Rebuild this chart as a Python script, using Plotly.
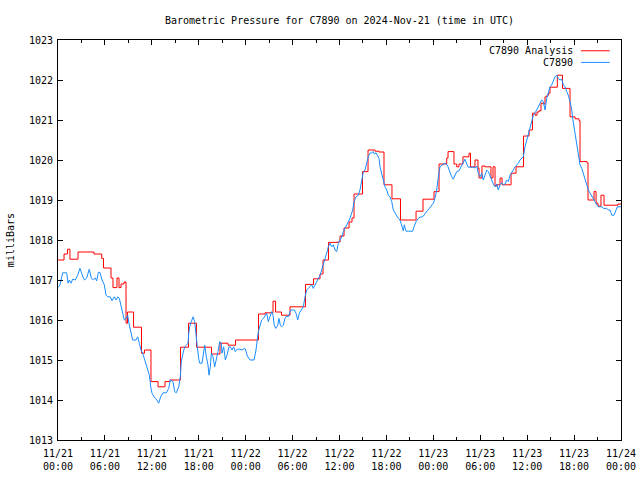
import plotly.graph_objects as go

# ---- data (hours since 2024-11-21 00:00 UTC, pressure in mb) ----
analysis_hours = [0.0, 0.77, 1.21, 1.53, 2.56, 4.60, 5.59, 5.82, 6.78, 7.03, 7.54, 7.80, 8.06, 8.44,
                  8.70, 8.89, 9.66, 10.68, 11.06, 11.89, 12.79, 13.68, 14.32, 15.67, 16.69, 17.71,
                  19.63, 20.72, 21.74, 22.70, 25.64, 26.47, 27.50, 27.82, 28.58, 29.67, 31.65, 32.68,
                  33.51, 33.89, 34.59, 35.68, 36.07, 36.58, 37.22, 37.60, 37.86, 38.94, 39.65, 40.54,
                  41.05, 41.69, 42.71, 43.80, 45.79, 46.68, 48.09, 48.73, 49.71, 49.88, 50.64, 50.99,
                  51.28, 51.79, 52.56, 52.75, 53.33, 53.71, 53.84, 54.22, 54.61, 55.37, 55.63, 55.89,
                  56.14, 56.53, 56.79, 57.94, 58.58, 59.53, 60.24, 60.68, 61.00, 61.26, 61.51, 61.77,
                  62.03, 62.28, 62.54, 62.73, 62.92, 63.86, 64.52, 65.48, 66.12, 66.63, 66.76, 67.65,
                  67.78, 68.55, 68.81, 69.06, 69.44, 69.83, 71.62, 72.0]
analysis_mb = [1017.50, 1017.65, 1017.77, 1017.52, 1017.70, 1017.65, 1017.54, 1017.30, 1017.05, 1016.81,
               1017.05, 1016.81, 1016.90, 1016.95, 1015.92, 1016.20, 1015.82, 1015.17, 1015.25, 1014.46,
               1014.33, 1014.46, 1014.50, 1015.32, 1015.92, 1015.32, 1015.15, 1015.42, 1015.37, 1015.50,
               1016.15, 1016.18, 1016.47, 1016.20, 1016.12, 1016.33, 1016.89, 1017.03, 1017.15, 1017.50,
               1017.94, 1017.95, 1018.10, 1018.30, 1018.45, 1018.55, 1019.15, 1019.71, 1020.25, 1020.22,
               1020.20, 1019.38, 1019.03, 1018.50, 1018.72, 1019.02, 1019.21, 1019.90, 1020.05, 1020.21,
               1019.90, 1019.83, 1019.90, 1020.08, 1020.17, 1019.83, 1020.00, 1019.80, 1019.55, 1019.85,
               1019.83, 1019.55, 1019.83, 1019.35, 1019.38, 1019.55, 1019.38, 1019.67, 1019.83, 1020.60,
               1020.75, 1021.17, 1021.12, 1021.20, 1021.23, 1021.42, 1021.40, 1021.58, 1021.62, 1021.67,
               1021.82, 1022.12, 1021.79, 1021.08, 1021.03, 1020.98, 1019.96, 1019.93, 1019.00, 1019.21,
               1018.92, 1018.85, 1019.12, 1018.87, 1018.90, 1018.90]

obs_hours = [0.0, 0.26, 0.60, 1.11, 1.28, 1.45, 1.66, 1.88, 2.21, 2.52, 2.81, 3.03, 3.24, 3.41, 3.67,
             4.00, 4.26, 4.51, 4.77, 4.95, 5.15, 5.37, 5.63, 5.92, 6.14, 6.36, 6.69, 6.91, 7.20, 7.42,
             7.67, 7.84, 8.06, 8.27, 8.48, 8.70, 8.91, 9.12, 9.34, 9.55, 9.98, 10.19, 10.40, 10.61,
             10.83, 11.04, 11.25, 11.47, 11.68, 11.89, 12.02, 12.28, 12.57, 12.88, 13.13, 13.43,
             13.85, 14.16, 14.36, 14.71, 14.92, 15.13, 15.44, 15.64, 15.77, 15.99, 16.20, 16.41,
             16.63, 16.72, 16.84, 17.05, 17.27, 17.48, 17.61, 17.82, 17.99, 18.12, 18.42, 18.54,
             18.76, 18.97, 19.18, 19.31, 19.48, 19.61, 19.82, 20.04, 20.25, 20.46, 20.68, 20.88,
             20.97, 21.19, 21.40, 21.61, 21.87, 22.04, 22.25, 22.47, 22.67, 22.93, 23.24, 23.53,
             23.88, 24.00, 24.21, 24.55, 25.07, 25.32, 25.62, 25.83, 26.05, 26.26, 26.47, 26.69,
             26.89, 27.11, 27.33, 27.50, 27.66, 27.84, 28.10, 28.26, 28.43, 28.61, 28.81, 29.03,
             29.25, 29.45, 29.76, 30.02, 30.22, 30.44, 30.66, 30.86, 31.08, 31.37, 31.59, 31.81,
             32.01, 32.23, 32.45, 32.65, 32.87, 33.09, 33.29, 33.51, 33.72, 33.93, 34.15, 34.36,
             34.57, 34.79, 35.00, 35.21, 35.43, 35.64, 35.85, 36.07, 36.28, 36.49, 36.83, 37.13,
             37.34, 37.69, 37.86, 38.11, 38.41, 38.62, 38.84, 39.05, 39.26, 39.48, 39.68, 39.90,
             40.12, 40.32, 40.45, 40.67, 40.84, 41.05, 41.18, 41.40, 41.60, 41.82, 42.04, 42.24,
             42.46, 42.68, 42.88, 43.10, 43.32, 43.52, 43.74, 43.96, 44.16, 44.29, 44.51, 44.80,
             45.02, 45.36, 45.53, 45.79, 46.08, 46.30, 46.64, 46.94, 47.23, 47.49, 47.79, 48.00,
             48.21, 48.43, 48.64, 48.76, 48.85, 49.28, 49.58, 49.84, 50.00, 50.26, 50.55, 50.77,
             50.99, 51.28, 51.54, 51.83, 52.05, 52.27, 52.47, 52.69, 53.11, 53.33, 53.55, 53.75,
             53.97, 54.19, 54.39, 54.61, 54.83, 55.03, 55.25, 55.47, 55.67, 55.89, 56.11, 56.31,
             56.53, 56.75, 56.95, 57.17, 57.39, 57.59, 57.81, 58.03, 58.23, 58.45, 58.66, 58.87,
             59.08, 59.30, 59.51, 59.72, 59.94, 60.15, 60.36, 60.58, 60.79, 61.00, 61.22, 61.43,
             61.64, 61.86, 62.07, 62.28, 62.50, 62.71, 62.92, 63.14, 63.34, 63.56, 63.78, 63.98,
             64.20, 64.42, 64.62, 64.84, 65.06, 65.26, 65.48, 65.70, 65.82, 65.99, 66.12, 66.34,
             66.54, 66.76, 66.98, 67.19, 67.40, 67.62, 67.82, 68.04, 68.26, 68.47, 68.68, 68.90,
             69.11, 69.54, 69.75, 70.17, 70.38, 70.60, 70.82, 71.11, 71.37, 71.53, 71.88, 72.0]
obs_mb = [1016.81, 1016.88, 1017.18, 1017.18, 1016.92, 1017.00, 1016.92, 1017.02, 1017.00, 1017.12,
          1017.29, 1017.15, 1017.05, 1017.00, 1017.05, 1017.27, 1017.05, 1017.00, 1017.05, 1016.98,
          1017.19, 1017.19, 1017.00, 1016.88, 1016.62, 1016.58, 1016.58, 1016.48, 1016.58, 1016.50,
          1016.58, 1016.54, 1016.37, 1016.21, 1016.00, 1016.04, 1016.12, 1015.87, 1015.71, 1015.50,
          1015.50, 1015.58, 1015.42, 1015.25, 1015.17, 1015.04, 1014.92, 1014.79, 1014.62, 1014.29,
          1014.17, 1014.08, 1014.02, 1013.92, 1014.08, 1014.18, 1014.18, 1014.29, 1014.50, 1014.46,
          1014.21, 1014.18, 1014.33, 1014.58, 1014.96, 1015.17, 1015.33, 1015.37, 1015.42, 1015.67,
          1015.83, 1015.96, 1016.08, 1015.96, 1015.67, 1015.33, 1015.04, 1014.92, 1014.92, 1015.08,
          1015.37, 1015.08, 1014.88, 1014.62, 1014.83, 1015.17, 1015.08, 1014.83, 1015.00, 1015.21,
          1015.46, 1015.42, 1015.17, 1015.33, 1015.00, 1015.12, 1015.33, 1015.33, 1015.25, 1015.33,
          1015.21, 1015.27, 1015.27, 1015.25, 1015.29, 1015.25, 1015.10, 1015.00, 1015.00, 1015.25,
          1015.71, 1015.87, 1016.00, 1016.04, 1016.10, 1016.17, 1015.96, 1016.08, 1016.21, 1016.12,
          1015.87, 1015.79, 1015.87, 1016.04, 1015.87, 1015.83, 1015.87, 1016.04, 1016.10, 1016.08,
          1016.25, 1016.25, 1016.25, 1016.17, 1016.00, 1016.17, 1016.25, 1016.33, 1016.58, 1016.75,
          1016.79, 1016.83, 1016.88, 1016.79, 1016.88, 1016.96, 1017.07, 1017.12, 1017.25, 1017.37,
          1017.50, 1017.67, 1017.83, 1017.92, 1017.83, 1017.88, 1017.75, 1017.71, 1017.92, 1018.00,
          1018.08, 1018.21, 1018.33, 1018.46, 1018.54, 1018.75, 1018.96, 1019.08, 1019.12, 1019.25,
          1019.54, 1019.71, 1019.75, 1019.92, 1020.08, 1020.17, 1020.18, 1020.21, 1020.15, 1020.18,
          1020.12, 1020.04, 1019.83, 1019.67, 1019.50, 1019.33, 1019.25, 1019.12, 1019.08, 1018.96,
          1018.75, 1018.67, 1018.62, 1018.54, 1018.50, 1018.35, 1018.23, 1018.38, 1018.22, 1018.22,
          1018.22, 1018.22, 1018.33, 1018.46, 1018.54, 1018.57, 1018.58, 1018.67, 1018.73, 1018.79,
          1018.87, 1018.92, 1019.04, 1019.25, 1019.58, 1019.71, 1019.83, 1019.90, 1019.92, 1019.85,
          1019.75, 1019.62, 1019.52, 1019.62, 1019.71, 1019.73, 1019.83, 1019.93, 1020.02, 1019.90,
          1019.82, 1019.82, 1019.82, 1019.80, 1019.85, 1019.67, 1019.58, 1019.67, 1019.50, 1019.62,
          1019.75, 1019.71, 1019.62, 1019.50, 1019.40, 1019.33, 1019.40, 1019.25, 1019.38, 1019.43,
          1019.38, 1019.40, 1019.50, 1019.46, 1019.62, 1019.71, 1019.75, 1019.83, 1019.88, 1019.92,
          1020.00, 1020.04, 1020.08, 1020.33, 1020.50, 1020.62, 1020.79, 1020.92, 1021.12, 1021.17,
          1021.25, 1021.33, 1021.42, 1021.50, 1021.46, 1021.25, 1021.54, 1021.67, 1021.83, 1021.88,
          1022.00, 1022.08, 1022.12, 1022.04, 1022.00, 1022.02, 1021.88, 1021.83, 1021.71, 1021.62,
          1021.46, 1021.25, 1021.04, 1020.83, 1020.58, 1020.33, 1020.08, 1019.88, 1019.79, 1019.67,
          1019.50, 1019.38, 1019.25, 1019.17, 1019.08, 1019.00, 1018.96, 1018.88, 1018.83, 1018.83,
          1018.79, 1018.79, 1018.75, 1018.75, 1018.62, 1018.62, 1018.75, 1018.83, 1018.83, 1018.83]

x_tick_hours = [0, 6, 12, 18, 24, 30, 36, 42, 48, 54, 60, 66, 72]
x_tick_labels = ["11/21<br>00:00", "11/21<br>06:00", "11/21<br>12:00", "11/21<br>18:00",
                 "11/22<br>00:00", "11/22<br>06:00", "11/22<br>12:00", "11/22<br>18:00",
                 "11/23<br>00:00", "11/23<br>06:00", "11/23<br>12:00", "11/23<br>18:00",
                 "11/24<br>00:00"]
y_ticks = [1013, 1014, 1015, 1016, 1017, 1018, 1019, 1020, 1021, 1022, 1023]

series_names = ["C7890 Analysis", "C7890"]
series_colors = ["#ff0000", "#1a8cff"]

FONT = "DejaVu Sans Mono"

fig = go.Figure()
fig.add_trace(go.Scatter(x=analysis_hours, y=analysis_mb, mode="lines", name=series_names[0],
                         line=dict(color=series_colors[0], width=1, shape="hv"), showlegend=False))
fig.add_trace(go.Scatter(x=obs_hours, y=obs_mb, mode="lines", name=series_names[1],
                         line=dict(color=series_colors[1], width=1), showlegend=False))

# legend drawn gnuplot-style (text right, sample line after it)
for i, (name, col) in enumerate(zip(series_names, series_colors)):
    yp = 0.973 - i * 0.029
    fig.add_annotation(x=0.918, y=yp, xref="paper", yref="paper", text=name, showarrow=False,
                       xanchor="right", yanchor="middle", font=dict(family=FONT, size=10, color="black"))
    fig.add_shape(type="line", xref="paper", yref="paper", x0=0.929, x1=0.980, y0=yp, y1=yp,
                  line=dict(color=col, width=1))

fig.add_annotation(x=-0.085, y=0.5, xref="paper", yref="paper", text="milliBars", textangle=-90,
                   showarrow=False, xanchor="center", yanchor="middle",
                   font=dict(family=FONT, size=10, color="black"))

fig.update_layout(
    width=640, height=480,
    margin=dict(l=58, r=19, t=40, b=40, autoexpand=False),
    paper_bgcolor="white", plot_bgcolor="white",
    font=dict(family=FONT, size=10, color="black"),
    title=dict(text="Barometric Pressure for C7890 on 2024-Nov-21 (time in UTC)",
               x=(58 + 621) / 2 / 640, xanchor="center", y=1 - 20 / 480, yanchor="middle",
               font=dict(family=FONT, size=10, color="black")),
    showlegend=False,
)
fig.update_xaxes(range=[0, 72], tickvals=x_tick_hours, ticktext=x_tick_labels, automargin=False,
                 showgrid=False, zeroline=False, showline=True, linecolor="black", linewidth=1,
                 mirror="ticks", ticks="inside", ticklen=5, tickcolor="black", tickwidth=1,
                 ticklabelstandoff=4,
                 minor=dict(ticks="inside", dtick=3, tick0=0, ticklen=3, tickcolor="black", showgrid=False))
fig.update_yaxes(range=[1013, 1023], tickvals=y_ticks, ticktext=[str(v) for v in y_ticks], automargin=False,
                 showgrid=False, zeroline=False, showline=True, linecolor="black", linewidth=1,
                 mirror="ticks", ticks="inside", ticklen=5, tickcolor="black", tickwidth=1,
                 ticklabelstandoff=2)

fig.write_html("out.html", config={"displayModeBar": False},
               post_script="document.body.style.margin='0';document.body.style.overflow='hidden';")
